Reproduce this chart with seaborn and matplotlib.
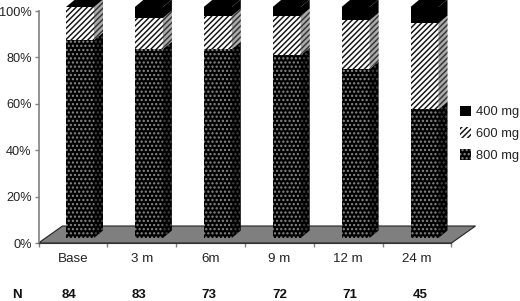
import matplotlib
matplotlib.use("Agg")
import matplotlib.pyplot as plt
import seaborn as sns
from matplotlib.patches import Polygon

months = ["Base", "3 m", "6m", "9 m", "12 m", "24 m"]
n_patients = [84, 83, 73, 72, 71, 45]
dose_800 = [85.7, 81.8, 81.8, 79.2, 73.2, 55.8]
dose_600 = [14.3, 13.4, 14.3, 16.9, 21.0, 37.2]
dose_400 = [0.0, 4.8, 3.9, 3.9, 5.8, 7.0]

W, H = 520, 301
sns.set_style("white")
plt.rcParams["font.family"] = ["Liberation Sans", "DejaVu Sans"]
plt.rcParams["hatch.linewidth"] = 1.05

fig = plt.figure(figsize=(W / 100, H / 100), dpi=100)

# back axes: the real y axis and the grey floor
back = fig.add_axes([38.5 / W, 1 - 243 / H, 413 / W, 232 / H])
back.set_xlim(0, 6)
back.set_ylim(0, 100)
floor_dx, floor_dy = 24 / (413 / 6), 17 / 2.32
back.add_patch(Polygon([(0, 0), (floor_dx, floor_dy), (6 + floor_dx, floor_dy), (6, 0)],
                       facecolor="#7f7f7f", edgecolor="#222222", linewidth=0.8, clip_on=False))
sns.despine(ax=back, top=True, right=True)
back.spines["left"].set_color("#808080")
back.spines["left"].set_linewidth(1.2)
back.spines["bottom"].set_color("#333333")
back.set_yticks([0, 20, 40, 60, 80, 100])
back.set_yticklabels(["0%", "20%", "40%", "60%", "80%", "100%"], fontsize=9.2, color="#222222")
back.set_xticks(range(7))
back.set_xticklabels([])
back.set_xticks([i + 0.5 for i in range(6)], labels=months, minor=True, fontsize=9.6, color="#222222")
back.tick_params(axis="y", length=3, width=1, color="#808080", pad=2, left=True)
back.tick_params(axis="x", which="major", length=3, width=1, color="#808080", bottom=True)
back.tick_params(axis="x", which="minor", length=0, pad=7.5)
for i, n in enumerate(n_patients):
    back.text(i + 0.44 + 0.02 * i, -22.6, str(n), ha="center", va="center",
              fontsize=9.5, fontweight="bold", color="#111111", clip_on=False)
back.text(-0.31, -22.6, "N", ha="center", va="center", fontsize=9.5, fontweight="bold", color="#111111")

# front axes: same scale, shifted to the plane the bars stand on
ax = fig.add_axes([0, 0, 1, 1])
ax.patch.set_alpha(0)

top_400 = [a + b + c for a, b, c in zip(dose_800, dose_600, dose_400)]
top_600 = [a + b for a, b in zip(dose_800, dose_600)]

bar_w = 28 / 68.9
sns.barplot(x=months, y=top_400, color="black", saturation=1, width=bar_w, ax=ax,
            edgecolor="black", linewidth=0)
sns.barplot(x=months, y=top_600, color="white", saturation=1, width=bar_w, ax=ax,
            edgecolor="#111111", linewidth=0, hatch="//////")
sns.barplot(x=months, y=dose_800, color="black", saturation=1, width=bar_w, ax=ax,
            edgecolor="#8c8c8c", linewidth=0, hatch="....")
ax.set_xlim(-80 / 68.9, (W - 80) / 68.9)
ax.set_ylim(-(H - 238) / 2.31, 238 / 2.31)
ax.axis("off")
handles = list(ax.containers)

# side and top faces of the 3-D columns
dx, dy = 9 / 68.9, 7.5 / 2.31
for i in range(len(months)):
    r = i + bar_w / 2
    l = i - bar_w / 2
    t8, t6, t4 = dose_800[i], top_600[i], top_400[i]
    ax.fill([r, r + dx, r + dx, r], [0, dy, t8 + dy, t8], facecolor="#000000",
            edgecolor="#444444", linewidth=0, hatch="....")
    ax.fill([r, r + dx, r + dx, r], [t8, t8 + dy, t6 + dy, t6], facecolor="#aaaaaa",
            edgecolor="#333333", linewidth=0, hatch="//////")
    ax.fill([r, r + dx, r + dx, r], [t6, t6 + dy, t4 + dy, t4], color="black", linewidth=0)
    ax.fill([l, l + dx, r + dx, r], [t4, t4 + dy, t4 + dy, t4], color="black", linewidth=0)

fig.legend(handles, ["400 mg", "600 mg", "800 mg"], loc="upper left",
           bbox_to_anchor=(460 / W, 1 - 105.5 / H), frameon=False, fontsize=9.3,
           handlelength=0.85, handleheight=0.85, handletextpad=0.35, labelspacing=0.72,
           borderpad=0, borderaxespad=0, labelcolor="#222222")

fig.savefig("out.png", dpi=100)
